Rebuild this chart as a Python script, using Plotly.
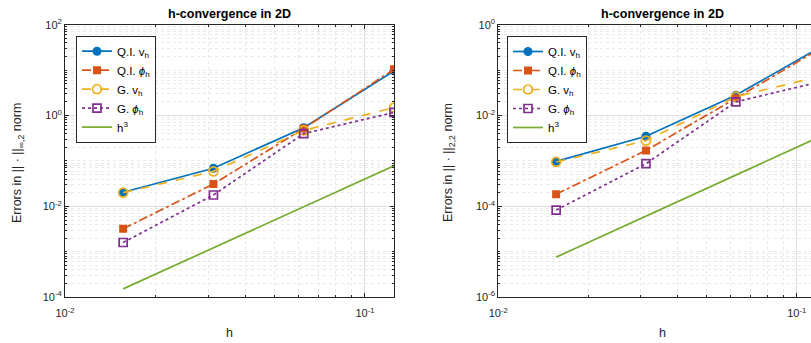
import plotly.graph_objects as go
import math

# ---------------- data ----------------
h = [1/64, 1/32, 1/16, 1/8]

# left panel: ||.||_{inf,2}
L_qi_v   = [0.0205, 0.069, 0.54, 9.6]
L_qi_phi = [0.0032, 0.031, 0.52, 10.4]
L_g_v    = [0.0200, 0.059, 0.47, 1.5]
L_g_phi  = [0.0016, 0.0178, 0.40, 1.17]
L_h3     = [1.526e-4, 1.221e-3, 9.766e-3, 7.8125e-2]

# right panel: ||.||_{2,2}
R_qi_v   = [9.8e-4, 3.5e-3, 0.028, 0.37]
R_qi_phi = [1.85e-4, 1.7e-3, 0.024, 0.35]
R_g_v    = [9.5e-4, 2.8e-3, 0.026, 0.078]
R_g_phi  = [8.3e-5, 8.7e-4, 0.020, 0.059]
R_h3     = [7.63e-6, 6.10e-5, 4.88e-4, 3.906e-3]

names = ["Q.I. v<sub>h</sub>", "Q.I. <i>ϕ</i><sub>h</sub>", "G. v<sub>h</sub>",
         "G. <i>ϕ</i><sub>h</sub>", "h<sup>3</sup>"]

# ---------------- styles ----------------
W, H = 811, 343
BLUE, ORANGE, YELLOW, PURPLE, GREEN = "#0072BD", "#D95319", "#EDB120", "#7E2F8E", "#77AC30"
AX = "#262626"
FONT = "Liberation Sans, Arial, Helvetica, sans-serif"

styles = [
    dict(line=dict(color=BLUE, width=1.7, dash="solid"),
         marker=dict(symbol="circle", size=9, color=BLUE)),
    dict(line=dict(color=ORANGE, width=1.7, dash="dashdot"),
         marker=dict(symbol="square", size=8, color=ORANGE)),
    dict(line=dict(color=YELLOW, width=1.7, dash="dash"),
         marker=dict(symbol="circle-open", size=9, color=YELLOW, line=dict(width=1.7, color=YELLOW))),
    dict(line=dict(color=PURPLE, width=1.7, dash="dot"),
         marker=dict(symbol="square-open", size=8, color=PURPLE, line=dict(width=1.7, color=PURPLE))),
    dict(line=dict(color=GREEN, width=1.7, dash="solid")),
]

fig = go.Figure()

left_series = [L_qi_v, L_qi_phi, L_g_v, L_g_phi, L_h3]
right_series = [R_qi_v, R_qi_phi, R_g_v, R_g_phi, R_h3]

for i, (ys, st) in enumerate(zip(left_series, styles)):
    fig.add_trace(go.Scatter(x=h, y=ys, name=names[i], mode="lines" if i == 4 else "lines+markers",
                             xaxis="x", yaxis="y", legend="legend", **st))
for i, (ys, st) in enumerate(zip(right_series, styles)):
    fig.add_trace(go.Scatter(x=h, y=ys, name=names[i], mode="lines" if i == 4 else "lines+markers",
                             xaxis="x2", yaxis="y2", legend="legend2", **st))


def minor_vals(d0, d1, skip):
    out = []
    for d in range(d0, d1):
        for k in range(1, 10):
            v = k * 10 ** d
            if not (k == 1 and d in skip):
                out.append(v)
    return out


def sup(e):
    return "10<sup>%d</sup>" % e


px_x = lambda p: p / W
px_y = lambda p: 1 - p / H

ydom = [px_y(297.2), px_y(24.7)]

common_ax = dict(type="log", showline=True, linecolor=AX, linewidth=1, ticks="inside", ticklen=4,
                 tickcolor=AX, tickfont=dict(family=FONT, size=11, color=AX), automargin=False,
                 showgrid=True, gridcolor="#dcdcdc", gridwidth=1, zeroline=False)
minor_common = dict(tickmode="array", ticks="inside", ticklen=2, tickcolor=AX, showgrid=True,
                    gridcolor="#e9e9e9", griddash="dot", gridwidth=1)

fig.update_layout(
    xaxis=dict(domain=[px_x(65), px_x(394)], range=[-2, math.log10(0.125)], anchor="y",
               tickmode="array", tickvals=[0.01, 0.1], ticktext=[sup(-2), sup(-1)], mirror="allticks",
               ticklabelstandoff=6,
               minor=dict(tickvals=minor_vals(-2, 0, [-2, -1]), **minor_common), **common_ax),
    yaxis=dict(domain=ydom, range=[-4, 2], anchor="x",
               tickmode="array", tickvals=[1e-4, 1e-2, 1, 1e2],
               ticktext=[sup(-4), sup(-2), sup(0), sup(2)], mirror="allticks",
               minor=dict(tickvals=minor_vals(-4, 2, [-4, -2, 0]), **minor_common), **common_ax),
    xaxis2=dict(domain=[px_x(498.3), 1.0], range=[-2, -0.9521], anchor="y2",
                tickmode="array", tickvals=[0.01, 0.1], ticktext=[sup(-2), sup(-1)], mirror="allticks",
                ticklabelstandoff=6,
                minor=dict(tickvals=minor_vals(-2, 0, [-2, -1]), **minor_common), **common_ax),
    yaxis2=dict(domain=ydom, range=[-6, 0], anchor="x2",
                tickmode="array", tickvals=[1e-6, 1e-4, 1e-2, 1],
                ticktext=[sup(-6), sup(-4), sup(-2), sup(0)], mirror=False,
                minor=dict(tickvals=minor_vals(-6, 0, [-6, -4, -2]), **minor_common), **common_ax),
)

leg_common = dict(bgcolor="white", bordercolor=AX, borderwidth=1, xanchor="left", yanchor="top",
                  font=dict(family=FONT, size=11.5, color="black"), tracegroupgap=0,
                  itemwidth=30)
fig.update_layout(
    legend=dict(x=px_x(76), y=px_y(35.7), **leg_common),
    legend2=dict(x=px_x(507), y=px_y(36), **leg_common),
)

ann = []
for cx in (229.5, 662):
    ann.append(dict(text="<b>h-convergence in 2D</b>", x=px_x(cx), y=px_y(14), xref="paper", yref="paper",
                    xanchor="center", yanchor="middle",
                    showarrow=False, font=dict(family=FONT, size=12.5, color="black")))
    ann.append(dict(text="h", x=px_x(cx), y=px_y(333), xref="paper", yref="paper",
                    xanchor="center", yanchor="middle",
                    showarrow=False, font=dict(family=FONT, size=12.5, color=AX)))
ann.append(dict(text="Errors in || · ||<sub>∞,2</sub> norm", x=px_x(18), y=px_y(163), xref="paper", yref="paper",
                xanchor="center", yanchor="middle",
                textangle=-90, showarrow=False, font=dict(family=FONT, size=12.5, color=AX)))
ann.append(dict(text="Errors in || · ||<sub>2,2</sub> norm", x=px_x(449), y=px_y(163), xref="paper", yref="paper",
                xanchor="center", yanchor="middle",
                textangle=-90, showarrow=False, font=dict(family=FONT, size=12.5, color=AX)))

fig.update_layout(annotations=ann, width=W, height=H,
                  margin=dict(l=0, r=0, t=0, b=0, pad=0, autoexpand=False),
                  paper_bgcolor="white", plot_bgcolor="white", showlegend=True)

fig.write_html("out.html", config={"displayModeBar": False},
               post_script="document.body.style.margin='0';document.body.style.overflow='hidden';")
